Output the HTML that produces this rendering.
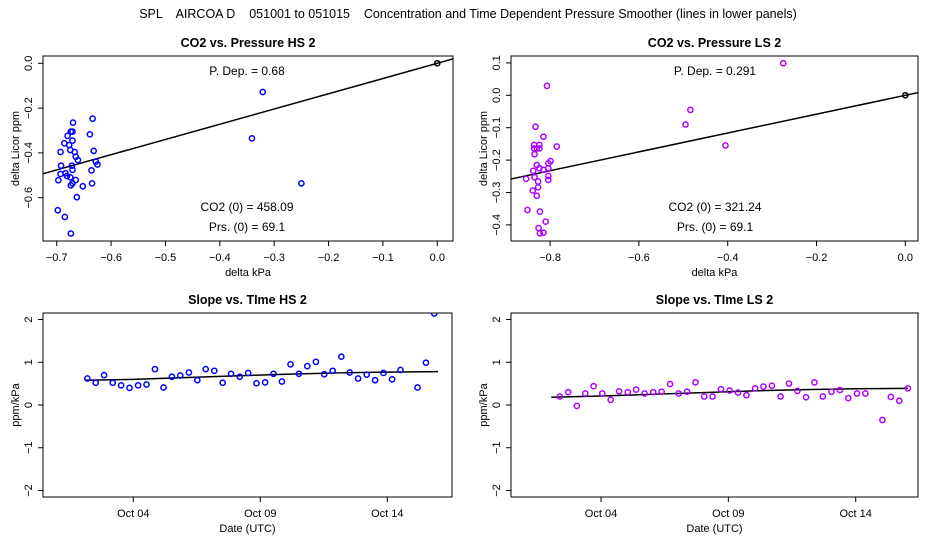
<!DOCTYPE html>
<html><head><meta charset="utf-8"><style>
html,body{margin:0;padding:0;background:#fff;}
svg{display:block;font-family:"Liberation Sans",sans-serif;}
#mt{white-space:pre;}
</style></head><body>
<svg id="c" width="936" height="540" xmlns="http://www.w3.org/2000/svg">
<text id="mt" x="468" y="18" text-anchor="middle" font-size="12.5" xml:space="preserve">SPL    AIRCOA D    051001 to 051015    Concentration and Time Dependent Pressure Smoother (lines in lower panels)</text>
</svg>
<script>
// ---- data: top-left (HS) ----
const hsPx=[-0.321,-0.341,-0.250,-0.670,-0.634,-0.674,-0.671,-0.639,-0.680,-0.686,-0.677,-0.671,-0.675,-0.693,-0.667,-0.632,-0.665,-0.661,-0.628,-0.625,-0.692,-0.672,-0.636,-0.671,-0.693,-0.684,-0.681,-0.675,-0.697,-0.665,-0.671,-0.674,-0.652,-0.635,-0.663,-0.698,-0.685,-0.674];
const hsPy=[-0.128,-0.335,-0.536,-0.265,-0.247,-0.305,-0.305,-0.317,-0.324,-0.357,-0.365,-0.345,-0.387,-0.396,-0.396,-0.391,-0.417,-0.432,-0.439,-0.452,-0.457,-0.457,-0.478,-0.476,-0.494,-0.491,-0.503,-0.509,-0.522,-0.521,-0.536,-0.545,-0.549,-0.536,-0.598,-0.656,-0.686,-0.760];
const hsSlope=0.68;
const hsXTicks=[-0.7,-0.6,-0.5,-0.4,-0.3,-0.2,-0.1,0.0];
const hsYTicks=[0.0,-0.2,-0.4,-0.6];
// ---- data: top-right (LS) ----
const lsPx=[-0.275,-0.484,-0.495,-0.405,-0.807,-0.833,-0.815,-0.785,-0.836,-0.824,-0.830,-0.836,-0.824,-0.835,-0.799,-0.804,-0.830,-0.824,-0.838,-0.815,-0.804,-0.854,-0.835,-0.804,-0.804,-0.827,-0.839,-0.827,-0.830,-0.851,-0.823,-0.810,-0.826,-0.823,-0.815];
const lsPy=[0.099,-0.045,-0.090,-0.155,0.029,-0.097,-0.128,-0.158,-0.153,-0.153,-0.164,-0.164,-0.164,-0.182,-0.203,-0.210,-0.215,-0.225,-0.233,-0.230,-0.225,-0.258,-0.253,-0.249,-0.261,-0.266,-0.294,-0.284,-0.310,-0.354,-0.359,-0.390,-0.410,-0.426,-0.424];
const lsSlope=0.291;
const lsXTicks=[-0.8,-0.6,-0.4,-0.2,0.0];
const lsYTicks=[0.1,0.0,-0.1,-0.2,-0.3,-0.4];
// ---- data: bottom panels (day of October, slope ppm/kPa) ----
const hsDays=[2.19,2.52,2.85,3.19,3.52,3.85,4.19,4.52,4.85,5.19,5.52,5.85,6.19,6.52,6.85,7.19,7.52,7.85,8.19,8.52,8.85,9.19,9.52,9.85,10.19,10.52,10.85,11.19,11.52,11.85,12.19,12.52,12.85,13.19,13.52,13.85,14.19,14.52,15.19,15.52,15.85];
const hsSlopes=[0.62,0.52,0.70,0.52,0.46,0.40,0.46,0.48,0.84,0.41,0.66,0.69,0.76,0.58,0.84,0.80,0.52,0.73,0.66,0.75,0.51,0.53,0.73,0.55,0.95,0.73,0.91,1.01,0.72,0.80,1.13,0.76,0.62,0.71,0.58,0.75,0.60,0.82,0.41,0.99,2.14];
const hsSmDays=[2.1,4,6,8,10,12,14,16.0];
const hsSmVals=[0.58,0.60,0.64,0.68,0.72,0.75,0.77,0.78];
const lsDays=[2.38,2.71,3.05,3.38,3.71,4.05,4.38,4.71,5.05,5.38,5.71,6.05,6.38,6.71,7.05,7.38,7.71,8.05,8.38,8.71,9.05,9.38,9.71,10.05,10.38,10.71,11.05,11.38,11.71,12.05,12.38,12.71,13.05,13.38,13.71,14.05,14.38,15.05,15.38,15.71,16.05];
const lsSlopes=[0.20,0.30,-0.02,0.27,0.44,0.27,0.12,0.32,0.30,0.36,0.27,0.30,0.31,0.49,0.27,0.31,0.53,0.20,0.20,0.37,0.34,0.29,0.23,0.39,0.43,0.45,0.20,0.50,0.33,0.18,0.53,0.20,0.31,0.35,0.16,0.27,0.27,-0.35,0.19,0.10,0.39];
const lsSmDays=[2.05,4,6,8,10,12,14,16.05];
const lsSmVals=[0.18,0.21,0.25,0.29,0.33,0.36,0.38,0.39];
const slopeYTicks=[-2,-1,0,1,2];
const dateTicks=[4,9,14];
const dateLabels=["Oct 04","Oct 09","Oct 14"];

const svg=document.getElementById('c');
const NS="http://www.w3.org/2000/svg";
function mk(tag,attrs,parent){const e=document.createElementNS(NS,tag);for(const k in attrs)e.setAttribute(k,attrs[k]);(parent||svg).appendChild(e);return e;}
function txt(s,x,y,opt,parent){const t=mk('text',Object.assign({x:x,y:y,'text-anchor':'middle','font-size':11},opt||{}),parent);t.textContent=s;return t;}
function fmt(v,d){return (v<0?'\u2212':'')+Math.abs(v).toFixed(d);}

function panel(cfg){
  const g=mk('g',{});
  
  
  const X=v=>cfg.x0+(v-cfg.xv0)*cfg.kx, Y=v=>cfg.y0-(v-cfg.yv0)*cfg.ky;
  const b=mk('rect',{x:cfg.L,y:cfg.T,width:cfg.R-cfg.L,height:cfg.B-cfg.T,fill:'none',stroke:'#000','stroke-width':1},g);
  
  const tt=txt(cfg.title,(cfg.L+cfg.R)/2,cfg.T-9,{'font-size':12.5,'font-weight':'bold'},g);
  
  cfg.xt.forEach((v,i)=>{const x=X(v);mk('line',{x1:x,x2:x,y1:cfg.B,y2:cfg.B+5,stroke:'#000'},g);
    const t=txt(cfg.xl?cfg.xl[i]:fmt(v,1),x,cfg.B+20,{},g);});
  cfg.yt.forEach(v=>{const y=Y(v);mk('line',{x1:cfg.L-5,x2:cfg.L,y1:y,y2:y,stroke:'#000'},g);
    const t=txt(cfg.yd===0?fmt(v,0):fmt(v,1),0,0,{transform:`translate(${cfg.L-11},${y}) rotate(-90)`},g);});
  const xl=txt(cfg.xlab,(cfg.L+cfg.R)/2,cfg.B+35,{},g);
  const yl=txt(cfg.ylab,0,0,{transform:`translate(${cfg.L-24},${(cfg.T+cfg.B)/2}) rotate(-90)`},g);
  const cp='cp'+cfg.name;const d=mk('clipPath',{id:cp},g);mk('rect',{x:cfg.L,y:cfg.T,width:cfg.R-cfg.L,height:cfg.B-cfg.T},d);
  const pg=mk('g',{'clip-path':`url(#${cp})`},g);
  return {g,pg,X,Y};
}
function pts(p,xs,ys,col,nm){xs.forEach((v,i)=>{const c=mk('circle',{cx:p.X(v),cy:p.Y(ys[i]),r:2.6,fill:'none',stroke:col,'stroke-width':1.5},p.pg);
  });}

p=panel({name:'hs-pressure-panel',title:'CO2 vs. Pressure HS 2',L:43,R:453,T:56,B:241,x0:437.3,xv0:0,kx:543.7,y0:63.3,yv0:0,ky:224,xt:hsXTicks,yt:hsYTicks,xlab:'delta kPa',ylab:'delta Licor ppm'});
let ln=mk('line',{x1:p.X(-0.8),y1:p.Y(-0.8*hsSlope),x2:p.X(0.1),y2:p.Y(0.1*hsSlope),stroke:'#000','stroke-width':1.5},p.pg);

pts(p,hsPx,hsPy,'#0000ff','data-point');
pts(p,[0],[0],'#000','origin-point');
txt('P. Dep. =  0.68',247,75,{'font-size':12},p.g);
txt('CO2 (0) =  458.09',247,211,{'font-size':12},p.g);
txt('Prs. (0) =  69.1',247,231,{'font-size':12},p.g);

p=panel({name:'ls-pressure-panel',title:'CO2 vs. Pressure LS 2',L:511,R:918,T:56,B:241,x0:905.3,xv0:0,kx:444,y0:95.3,yv0:0,ky:324,xt:lsXTicks,yt:lsYTicks,xlab:'delta kPa',ylab:'delta Licor ppm'});
ln=mk('line',{x1:p.X(-1),y1:p.Y(-1*lsSlope),x2:p.X(0.1),y2:p.Y(0.1*lsSlope),stroke:'#000','stroke-width':1.5},p.pg);

pts(p,lsPx,lsPy,'#b000ff','data-point');
pts(p,[0],[0],'#000','origin-point');
txt('P. Dep. =  0.291',715,75,{'font-size':12},p.g);
txt('CO2 (0) =  321.24',715,211,{'font-size':12},p.g);
txt('Prs. (0) =  69.1',715,231,{'font-size':12},p.g);

p=panel({name:'hs-slope-time-panel',title:'Slope vs. TIme HS 2',L:43,R:452,T:313,B:497,x0:133.3,xv0:4,kx:25.4,y0:405,yv0:0,ky:42.75,xt:dateTicks,xl:dateLabels,yt:slopeYTicks,yd:0,xlab:'Date (UTC)',ylab:'ppm/kPa'});
ln=mk('polyline',{points:hsSmDays.map((d,i)=>p.X(d)+','+p.Y(hsSmVals[i])).join(' '),fill:'none',stroke:'#000','stroke-width':1.5},p.pg);

pts(p,hsDays,hsSlopes,'#0000ff','slope-point');

p=panel({name:'ls-slope-time-panel',title:'Slope vs. TIme LS 2',L:511,R:918,T:313,B:497,x0:601,xv0:4,kx:25.47,y0:405,yv0:0,ky:42.75,xt:dateTicks,xl:dateLabels,yt:slopeYTicks,yd:0,xlab:'Date (UTC)',ylab:'ppm/kPa'});
ln=mk('polyline',{points:lsSmDays.map((d,i)=>p.X(d)+','+p.Y(lsSmVals[i])).join(' '),fill:'none',stroke:'#000','stroke-width':1.5},p.pg);

pts(p,lsDays,lsSlopes,'#b000ff','slope-point');
</script>
</body></html>
